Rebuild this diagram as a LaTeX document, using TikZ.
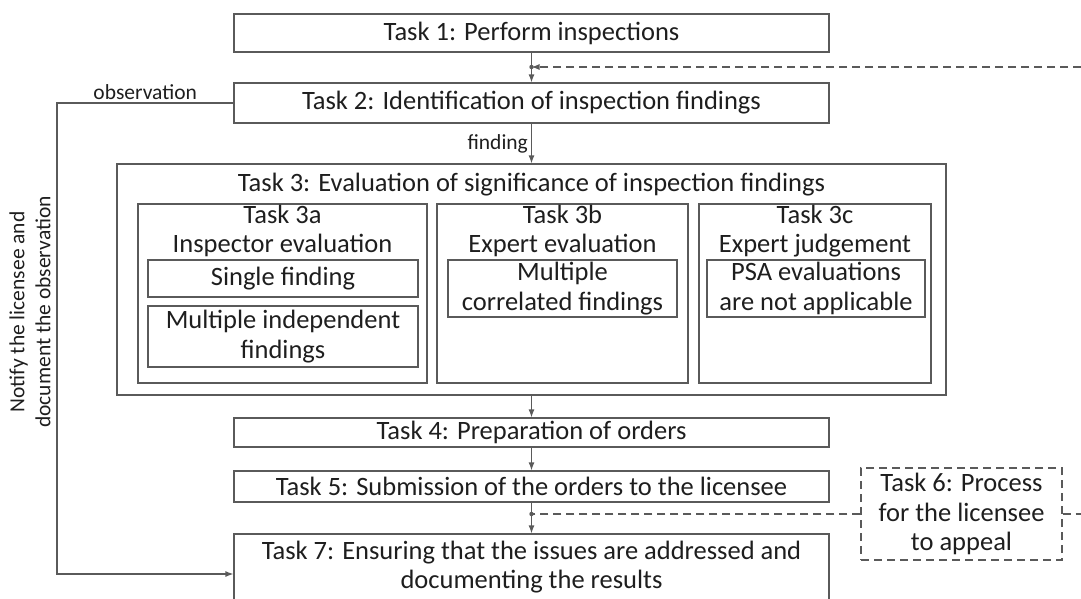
\documentclass[tikz,border=0pt]{standalone}
\usepackage{fontspec}
\setmainfont{Carlito}
\usetikzlibrary{arrows.meta}

\definecolor{linegray}{RGB}{90,90,90}
\definecolor{inkgray}{RGB}{30,30,30}

\begin{document}
\begin{tikzpicture}[
    x=1pt, y=-1pt,
    task/.style={draw=linegray, line width=1.2pt, inner sep=0pt, align=center,
                 text=inkgray, font=\fontsize{26.5}{29.5}\selectfont},
    appeal/.style={task, dash pattern=on 8pt off 5pt},
    title/.style={inner sep=0pt, align=center, text=inkgray, font=\fontsize{26.5}{29.5}\selectfont},
    note/.style={inner sep=3pt, align=center, text=inkgray, font=\fontsize{21.5}{26}\selectfont},
    flow/.style={draw=linegray, line width=1.2pt, -{Latex[length=8pt,width=6pt]}},
    link/.style={draw=linegray, line width=1.2pt, dash pattern=on 8pt off 5pt},
  ]
  \useasboundingbox (0,0) rectangle (1081,598);
  \clip (0,0) rectangle (1081,598);

  % main chain
  \node[task, minimum width=595, minimum height=38] (t1) at (531.5,33) {Task 1: Perform inspections};
  \node[task, minimum width=595, minimum height=40] (t2) at (531.5,103) {Task 2: Identification of inspection findings};
  \node[task, minimum width=829, minimum height=231] (t3) at (531.5,279.5) {};
  \node[title] (t3title) at (531.5,185) {Task 3: Evaluation of significance of inspection findings};

  % Task 3 parts
  \node[task, minimum width=289, minimum height=179] (t3a) at (282.5,293.5) {};
  \node[task, minimum width=251, minimum height=179] (t3b) at (562.5,293.5) {};
  \node[task, minimum width=232, minimum height=179] (t3c) at (815,293.5) {};
  \node[title] (t3atitle) at (282.5,231) {Task 3a\\Inspector evaluation};
  \node[title] (t3btitle) at (562.5,231) {Task 3b\\Expert evaluation};
  \node[title] (t3ctitle) at (815,231) {Task 3c\\Expert judgement};
  \node[task, minimum width=270, minimum height=37] (single) at (283,278.5) {Single finding};
  \node[task, minimum width=270, minimum height=61] (indep) at (283,336.5) {Multiple independent\\findings};
  \node[task, minimum width=229, minimum height=57] (corr) at (562.5,288.5) {Multiple\\correlated findings};
  \node[task, minimum width=218, minimum height=57] (psa) at (816,288.5) {PSA evaluations\\are not applicable};

  \node[task, minimum width=595, minimum height=29] (t4) at (531.5,432.5) {Task 4: Preparation of orders};
  \node[task, minimum width=595, minimum height=31] (t5) at (531.5,486.5) {Task 5: Submission of the orders to the licensee};
  \node[appeal, minimum width=201, minimum height=92] (t6) at (961.5,514) {Task 6: Process\\for the licensee\\to appeal};
  \node[task, minimum width=595, minimum height=66] (t7) at (531.5,567) {Task 7: Ensuring that the issues are addressed and\\documenting the results};

  \node[note, rotate=90] (notify) at (30,312) {Notify the licensee and\\document the observation};

  % junctions
  \coordinate (edgetop) at (1081,67);
  \coordinate (leftrail) at (57,0);
  \coordinate (j1) at (t1.south |- edgetop);
  \coordinate (j2) at (t5.south |- t6.west);
  \coordinate (edgebot) at (t6.east -| edgetop);
  \coordinate (t7in) at (t7.west |- 0,574);

  % connectors
  \draw[flow] (t1) -- (t2);
  \draw[flow] (t2) -- node[note, left] (findlbl) {finding} (t3);
  \draw[flow] (t3) -- (t4);
  \draw[flow] (t4) -- (t5);
  \draw[flow] (t5) -- (t7);
  \draw[flow] (t2.west) -- node[note, above] (obslbl) {observation} (t2.west -| leftrail) |- (t7in);
  \draw[link, -{Latex[length=8pt,width=6pt]}] (edgetop) -- (j1);
  \draw[link] (t6.west) -- (j2);
  \draw[link] (t6.east) -- (edgebot);
  \fill[linegray] (j1) circle (2.2pt);
  \fill[linegray] (j2) circle (2.2pt);
\end{tikzpicture}
\end{document}
